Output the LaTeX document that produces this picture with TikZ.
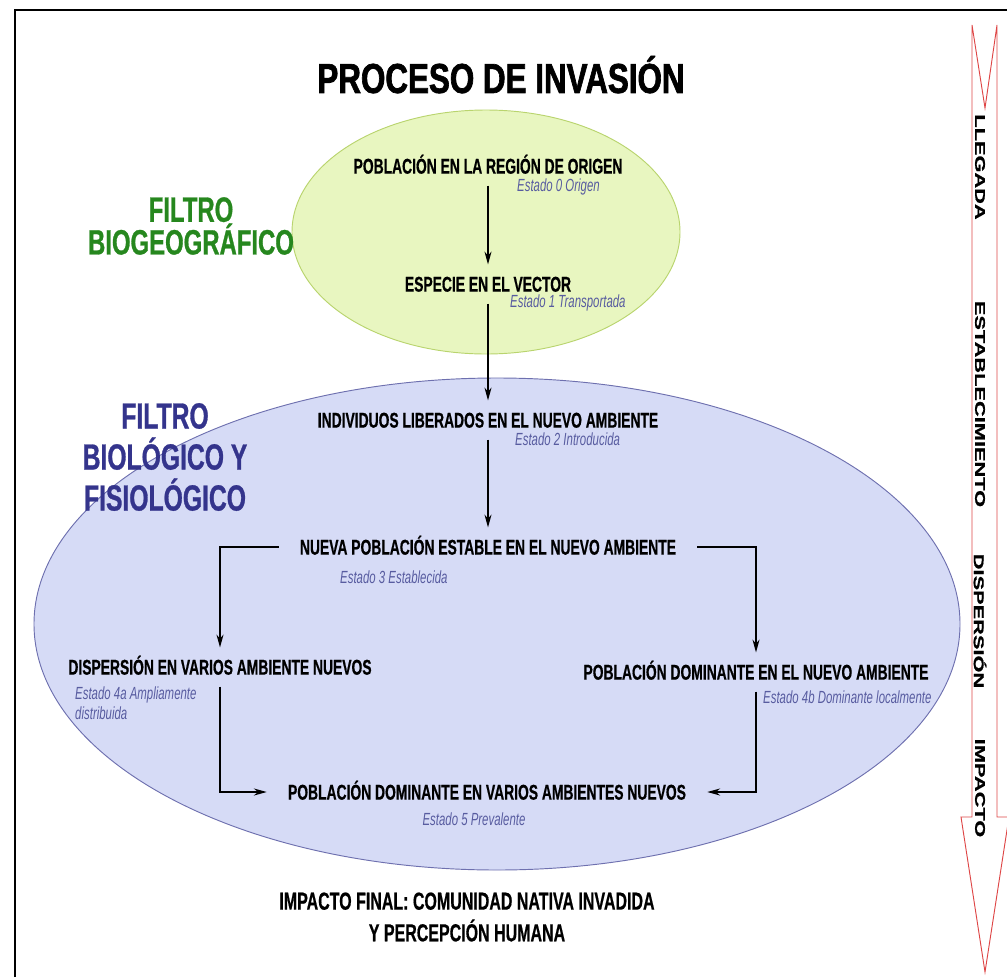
\documentclass[tikz,border=0pt]{standalone}
\usepackage{fontspec}
\setmainfont{Liberation Sans}
\newfontfamily\narrowfont{Liberation Sans}[FakeStretch=0.65, FakeBold=0.6]
\newfontfamily\estadofont{Liberation Sans}[FakeStretch=0.65]
\newfontfamily\titlefont{Liberation Sans}[FakeStretch=0.75, FakeBold=1.6]
\newfontfamily\filterfont{Liberation Sans}[FakeStretch=0.68, FakeBold=0.8]
\newfontfamily\sidefont{Liberation Sans}[FakeStretch=1.55, FakeBold=1]
\usetikzlibrary{arrows.meta}

\definecolor{verdefill}{RGB}{232,246,192}
\definecolor{verdeline}{RGB}{185,212,110}
\definecolor{azulfill}{RGB}{214,219,246}
\definecolor{azulline}{RGB}{110,112,175}
\definecolor{verdetexto}{RGB}{38,135,30}
\definecolor{azultexto}{RGB}{52,52,140}
\definecolor{estadoazul}{RGB}{88,92,160}
\definecolor{rojo}{RGB}{222,70,70}

\tikzset{
  stage/.style={font=\narrowfont\bfseries\fontsize{18.2}{20}\selectfont,
    text height=13pt, text depth=0pt, inner xsep=18pt, inner ysep=10pt},
  estado/.style={font=\estadofont\itshape\fontsize{15}{17}\selectfont,
    text=estadoazul, inner sep=0pt, anchor=west},
  filtro/.style={align=center, inner sep=0pt},
  fase/.style={font=\sidefont\bfseries\fontsize{12}{13}\selectfont,
    rotate=-90, inner sep=0pt},
  flow/.style={line width=1.3pt, -{Stealth[length=11pt,width=6pt]}}
}

\begin{document}
\begin{tikzpicture}[x=0.03cm, y=-0.03cm]
\useasboundingbox (0,0) rectangle (1007,977);

\draw[line width=2.5pt] (15,977) -- (15,10) -- (1007,10);

\fill[verdefill, draw=verdeline, line width=0.8pt] (486,232) ellipse [x radius=194, y radius=122];
\fill[azulfill, draw=azulline, line width=0.8pt] (497,624) ellipse [x radius=463, y radius=246];

\node[font=\titlefont\bfseries\fontsize{35.7}{40}\selectfont, text height=25.5pt,
  text depth=0pt, inner sep=0pt] (titulo) at (501,78) {PROCESO DE INVASIÓN};

\node[filtro, text=verdetexto, font=\filterfont\bfseries\fontsize{30}{26.4}\selectfont]
  (biogeo) at (191,226) {FILTRO\\BIOGEOGRÁFICO};
\node[filtro, text=azultexto, font=\filterfont\bfseries\fontsize{31}{35}\selectfont]
  (biofisio) at (165,457) {FILTRO\\BIOLÓGICO Y\\FISIOLÓGICO};

\node[stage] (origen) at (488,166) {POBLACIÓN EN LA REGIÓN DE ORIGEN};
\node[stage] (vector) at (488,284) {ESPECIE EN EL VECTOR};
\node[stage] (liberados) at (488,420) {INDIVIDUOS LIBERADOS EN EL NUEVO AMBIENTE};
\node[stage] (estable) at (488,547) {NUEVA POBLACIÓN ESTABLE EN EL NUEVO AMBIENTE};
\node[stage] (dispersion) at (220,667) {DISPERSIÓN EN VARIOS AMBIENTE NUEVOS};
\node[stage] (dominante) at (756,672) {POBLACIÓN DOMINANTE EN EL NUEVO AMBIENTE};
\node[stage] (prevalente) at (487,792) {POBLACIÓN DOMINANTE EN VARIOS AMBIENTES NUEVOS};

\node[estado] (e0) at (517,187) {Estado 0 Origen};
\node[estado] (e1) at (510,303) {Estado 1 Transportada};
\node[estado] (e2) at (515,439) {Estado 2 Introducida};
\node[estado] (e3) at (340,577) {Estado 3 Establecida};
\node[estado, align=left] (e4a) at (75,703) {Estado 4a Ampliamente\\distribuida};
\node[estado] (e4b) at (763,697) {Estado 4b Dominante localmente};
\node[estado, anchor=center] (e5) at (474,819) {Estado 5 Prevalente};

\draw[flow] (origen) -- (vector);
\draw[flow] (vector) -- (liberados);
\draw[flow] (liberados) -- (estable);
\draw[flow] (estable.west) -| (dispersion.north);
\draw[flow] (estable.east) -| (dominante.north);
\draw[flow] (dispersion.south) |- (prevalente.west);
\draw[flow] (dominante.south) |- (prevalente.east);

\node[align=center, font=\narrowfont\bfseries\fontsize{21}{27}\selectfont]
  (impacto) at (467,917) {IMPACTO FINAL: COMUNIDAD NATIVA INVADIDA\\Y PERCEPCIÓN HUMANA};

% red stage arrow on the right
\draw[rojo, line width=0.8pt] (972,25) -- (985,108) -- (997,25) -- (997,817) -- (1009,817)
  -- (985,972) -- (961,817) -- (972,817) -- cycle;
\node[fase] (llegada) at (980,167) {LLEGADA};
\node[fase] (establecimiento) at (980,404) {ESTABLECIMIENTO};
\node[fase] (dispersion2) at (980,621) {DISPERSIÓN};
\node[fase] (impacto2) at (980,788) {IMPACTO};
\end{tikzpicture}
\end{document}
